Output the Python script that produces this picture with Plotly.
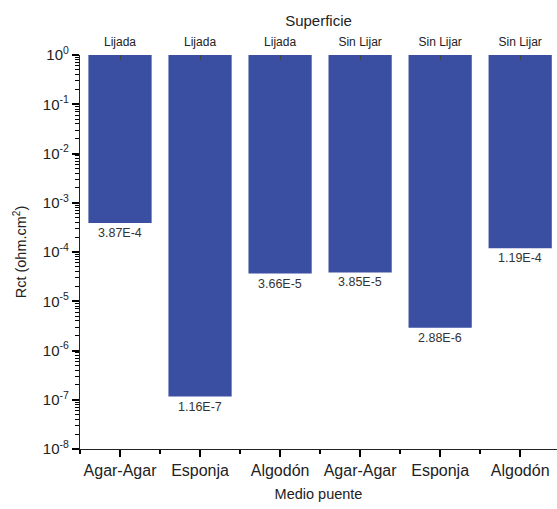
import math
import plotly.graph_objects as go

medio = ["Agar-Agar", "Esponja", "Algodón", "Agar-Agar", "Esponja", "Algodón"]
superficie = ["Lijada", "Lijada", "Lijada", "Sin Lijar", "Sin Lijar", "Sin Lijar"]
rct = [3.87e-4, 1.16e-7, 3.66e-5, 3.85e-5, 2.88e-6, 1.19e-4]
labels = ["3.87E-4", "1.16E-7", "3.66E-5", "3.85E-5", "2.88E-6", "1.19E-4"]
y_exps = list(range(-8, 1))

pos = list(range(len(medio)))
top = 1.0
color = "#3A4EA2"
font = "Liberation Sans, Arial, sans-serif"
minor_vals = [m * 10.0 ** e for e in y_exps[:-1] for m in range(2, 10)]

fig = go.Figure()
fig.add_trace(go.Bar(
    x=pos, y=[top - v for v in rct], base=rct,
    marker=dict(color=color, line=dict(width=0)),
    width=0.79, showlegend=False, hoverinfo="skip",
))
# dummy trace for the top axis
fig.add_trace(go.Scatter(x=pos, y=rct, xaxis="x2", mode="none",
                         showlegend=False, hoverinfo="skip"))

for p, v, t in zip(pos, rct, labels):
    fig.add_annotation(x=p, y=math.log10(v), yref="y", xref="x", text=t,
                       showarrow=False, yanchor="top", yshift=-1,
                       font=dict(family=font, size=12.5, color="#333333"))

fig.update_layout(
    width=557, height=509,
    margin=dict(l=80, r=0, t=55, b=60),
    paper_bgcolor="white", plot_bgcolor="white",
    font=dict(family=font, color="#222222"),
    xaxis=dict(
        range=[-0.5, 5.46], tickmode="array", tickvals=pos, ticktext=medio,
        ticks="outside", ticklen=7, tickcolor="#000000", tickwidth=1.5,
        showline=True, linecolor="#222", linewidth=1.2,
        showgrid=False, zeroline=False,
        tickfont=dict(size=16, color="#222"),
        minor=dict(ticks="outside", ticklen=4, tickcolor="#000000", tickwidth=1.5,
                   tick0=0.5, dtick=1, showgrid=False),
        title=dict(text="Medio puente", font=dict(size=14.5, color="#222"), standoff=10),
    ),
    xaxis2=dict(
        overlaying="x", side="top", range=[-0.5, 5.46],
        tickvals=pos, ticktext=superficie,
        ticks="inside", ticklen=5, tickcolor="#444",
        showline=False, showgrid=False, zeroline=False,
        ticklabelstandoff=6,
        tickfont=dict(size=12, color="#222"),
        title=dict(text="Superficie", font=dict(size=15, color="#222"), standoff=4),
    ),
    yaxis=dict(
        type="log", range=[-8, 0], tickmode="array",
        tickvals=[10.0 ** e for e in y_exps],
        ticktext=["10<sup>%d</sup>" % e for e in y_exps],
        ticks="outside", ticklen=7, tickcolor="#000000", tickwidth=1.5,
        showline=True, linecolor="#222", linewidth=1.2,
        showgrid=False, zeroline=False,
        tickfont=dict(size=15, color="#222"),
        minor=dict(tickmode="array", tickvals=minor_vals, ticks="outside",
                   ticklen=4, tickcolor="#000000", tickwidth=1.2, showgrid=False),
        title=dict(text="Rct (ohm.cm<sup>2</sup>)", font=dict(size=14.5, color="#222"), standoff=12),
    ),
    bargap=0.21,
)

fig.write_html("out.html")
